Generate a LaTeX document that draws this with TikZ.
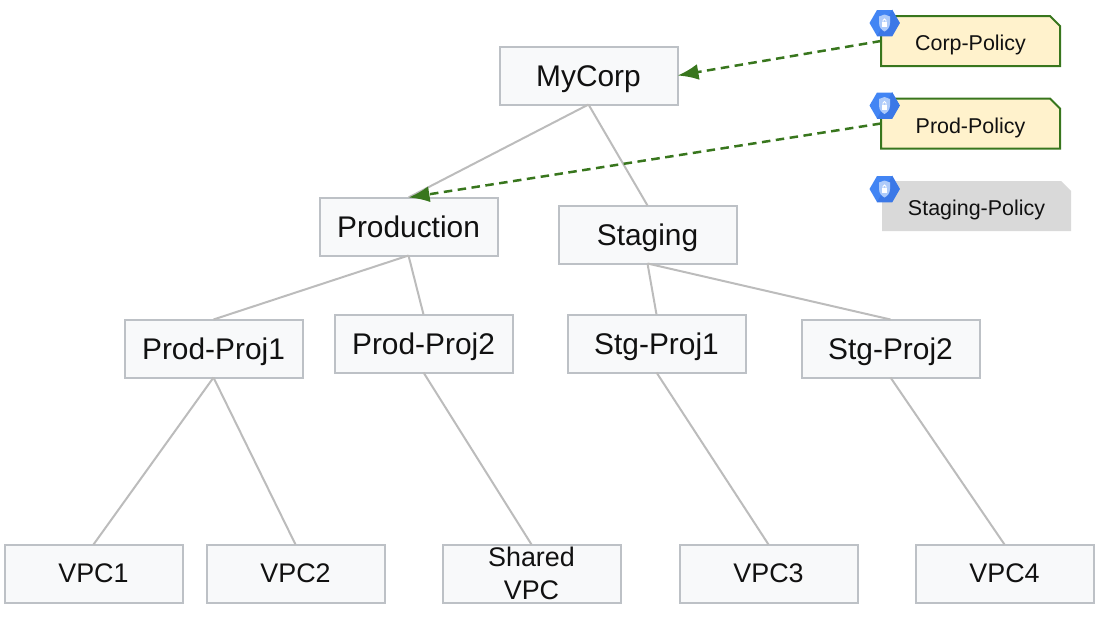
\documentclass[tikz,border=0pt]{standalone}
\usepackage{fontspec}
\setmainfont{Liberation Sans}
\usetikzlibrary{positioning,arrows.meta,shapes.geometric,shapes.misc}
\definecolor{boxfill}{HTML}{F8F9FA}
\definecolor{boxline}{HTML}{BDC1C6}
\definecolor{edgeline}{HTML}{BCBCBC}
\definecolor{attach}{HTML}{38761D}
\definecolor{policyfill}{HTML}{FFF2CC}
\definecolor{inactive}{HTML}{D9D9D9}
\definecolor{hexblue}{HTML}{4285F4}
\definecolor{hexdark}{HTML}{3B78E7}
\definecolor{shield}{HTML}{AECBFA}
\definecolor{inktext}{HTML}{111111}

\begin{document}
\begin{tikzpicture}[
    orgbox/.style={draw=boxline, fill=boxfill, line width=0.04cm, outer sep=0pt, minimum width=3.56cm, minimum height=1.16cm, text=inktext, align=center},
    big/.style={font=\fontsize{17}{20}\selectfont, text height=0.44cm, text depth=0cm},
    mid/.style={font=\fontsize{15.3}{18.7}\selectfont},
    policy/.style={chamfered rectangle, chamfered rectangle corners=north east, chamfered rectangle xsep=0.1cm, chamfered rectangle ysep=0.1cm, outer sep=0pt, text=inktext, font=\fontsize{12.2}{14}\selectfont, text height=0.38cm, text depth=0cm},
    active/.style={policy, draw=attach, fill=policyfill, line width=0.04cm, minimum width=3.58cm, minimum height=1cm},
    unused/.style={policy, fill=inactive, minimum width=3.78cm, minimum height=1cm},
    tree/.style={draw=edgeline, line width=0.04cm},
    bind/.style={-{Latex[length=0.42cm,width=0.32cm]}, attach, line width=0.05cm, dash pattern=on 0.17cm off 0.11cm},
    hex/.style={regular polygon, regular polygon sides=6, minimum size=0.6cm, inner sep=0pt, fill=hexblue},
    hexicon/.pic={
        \node[hex] (-hexa) {};
        \fill[hexdark] (-hexa.corner 1) -- (-hexa.corner 6) -- (-hexa.corner 5) -- (-hexa.corner 4) -- cycle;
        \fill[shield] (-0.11,0.13) -- (0,0.17) -- (0.11,0.13) -- (0.11,0) .. controls (0.11,-0.1) and (0.04,-0.15) .. (0,-0.17) .. controls (-0.04,-0.15) and (-0.11,-0.1) .. (-0.11,0) -- cycle;
        \fill[white] (-0.055,-0.08) rectangle (0.055,0.015);
        \draw[white, line width=0.015cm] (-0.03,0.015) -- (-0.03,0.05) arc (180:0:0.03) -- (0.03,0.015);
    }
]
\useasboundingbox (0,0) rectangle (22,12.34);

% org hierarchy
\node[orgbox, big] (mycorp) at (11.77,10.83) {MyCorp};
\node[orgbox, big, below=1.86cm of mycorp, xshift=-3.6cm] (production) {Production};
\node[orgbox, big, below=2.02cm of mycorp, xshift=1.18cm] (staging) {Staging};

\node[orgbox, big, below=1.28cm of production, xshift=-3.9cm] (prodproj1) {Prod-Proj1};
\node[orgbox, big, below=1.18cm of production, xshift=0.3cm] (prodproj2) {Prod-Proj2};
\node[orgbox, big, below=1.02cm of staging, xshift=0.18cm] (stgproj1) {Stg-Proj1};
\node[orgbox, big, below=1.12cm of staging, xshift=4.86cm] (stgproj2) {Stg-Proj2};

\node[orgbox, mid, below=3.34cm of prodproj1, xshift=-2.4cm] (vpc1) {VPC1};
\node[orgbox, mid, below=3.34cm of prodproj1, xshift=1.64cm] (vpc2) {VPC2};
\node[orgbox, mid, below=3.44cm of prodproj2, xshift=2.16cm, inner sep=0pt] (sharedvpc) {Shared\\VPC};
\node[orgbox, mid, below=3.44cm of stgproj1, xshift=2.24cm] (vpc3) {VPC3};
\node[orgbox, mid, below=3.34cm of stgproj2, xshift=2.28cm] (vpc4) {VPC4};

% policies
\node[active, right=4.07cm of mycorp, yshift=0.69cm] (corp) {Corp-Policy};
\node[active, below=0.65cm of corp] (prod) {Prod-Policy};
\node[unused, below=0.65cm of prod, xshift=0.12cm] (stgpolicy) {Staging-Policy};

\draw[tree] (mycorp.south) -- (production.north);
\draw[tree] (mycorp.south) -- (staging.north);
\draw[tree] (production.south) -- (prodproj1.north);
\draw[tree] (production.south) -- (prodproj2.north);
\draw[tree] (staging.south) -- (stgproj1.north);
\draw[tree] (staging.south) -- (stgproj2.north);
\draw[tree] (prodproj1.south) -- (vpc1.north);
\draw[tree] (prodproj1.south) -- (vpc2.north);
\draw[tree] (prodproj2.south) -- (sharedvpc.north);
\draw[tree] (stgproj1.south) -- (vpc3.north);
\draw[tree] (stgproj2.south) -- (vpc4.north);

\draw[bind] (corp.west) -- (mycorp.east);
\draw[bind] (prod.west) -- (production.north);

\pic (corphex) at ([xshift=0.07cm,yshift=-0.14cm]corp.north west) {hexicon};
\pic (prodhex) at ([xshift=0.07cm,yshift=-0.14cm]prod.north west) {hexicon};
\pic (stghex) at ([xshift=0.05cm,yshift=-0.16cm]stgpolicy.north west) {hexicon};

\end{tikzpicture}
\end{document}
